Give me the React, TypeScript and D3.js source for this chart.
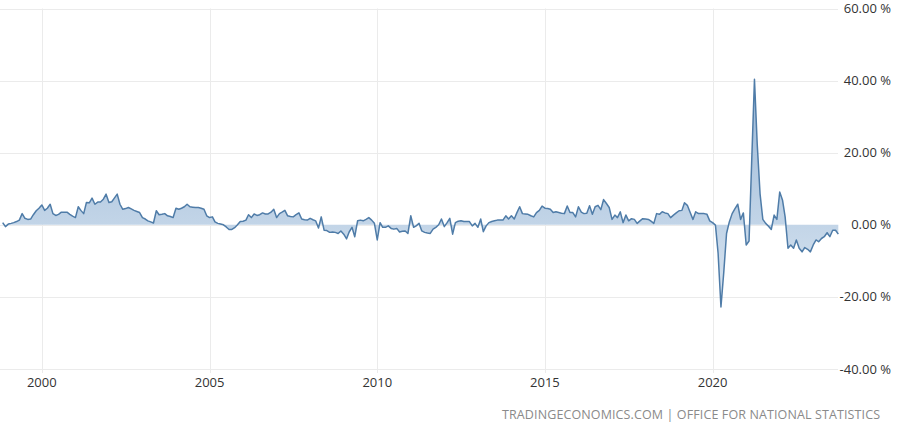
import * as d3 from "d3";
import { useEffect, useRef } from "react";

// monthly readings, first month Nov 1998
const startDate = new Date(1998, 10, 1);
const values: number[] = [
  0.6, -0.5, 0.2, 0.4, 0.6, 0.9, 1.3, 3.1, 1.8, 1.5, 1.6, 2.8, 3.9, 4.6, 5.5, 4.0, 4.6, 5.7, 3.1, 2.6,
  2.9, 3.5, 3.5, 3.5, 2.9, 2.4, 2.0, 5.0, 4.0, 3.1, 6.2, 6.1, 7.4, 5.7, 6.3, 6.3, 7.1, 8.5, 6.2, 6.4,
  7.4, 8.5, 5.7, 4.3, 4.5, 4.8, 4.4, 4.0, 3.7, 3.4, 2.0, 1.6, 1.1, 0.8, 0.5, 3.9, 2.8, 2.9, 3.1, 2.5,
  2.3, 2.0, 4.6, 4.3, 4.6, 5.0, 5.7, 5.0, 4.9, 4.8, 4.8, 4.6, 4.3, 2.5, 2.0, 2.2, 0.8, 0.4, 0.2, 0.0,
  -0.6, -1.3, -1.3, -0.8, 0.0, 0.9, 1.0, 1.3, 2.8, 2.0, 3.0, 2.6, 2.8, 3.3, 3.0, 3.0, 3.5, 4.3, 2.0, 3.1,
  3.5, 4.0, 2.5, 2.3, 2.2, 2.8, 3.3, 1.6, 1.4, 1.3, 1.8, 1.4, 1.1, -0.9, 2.2, -1.5, -1.6, -2.1, -2.0, -2.1,
  -2.4, -1.7, -2.6, -3.9, -2.0, -0.7, -3.3, 1.1, 1.3, 1.1, 1.5, 2.0, 1.3, 0.4, -4.2, 0.6, -0.7, -0.7, -0.3, -1.0,
  -1.2, -1.0, -2.0, -1.8, -1.7, -2.4, 2.5, -0.7, -0.3, 0.4, -1.7, -2.1, -2.3, -2.4, -1.2, -0.7, 0.0, 1.6, -0.5, 0.6,
  1.8, -2.6, 0.6, 1.0, 1.1, 0.9, 0.9, 0.9, -0.3, 0.4, -0.7, 1.6, -1.9, -0.3, 0.6, 0.9, 1.1, 1.3, 1.3, 1.3,
  2.5, 1.6, 2.5, 1.6, 3.3, 5.0, 3.1, 3.0, 2.9, 2.5, 2.2, 3.4, 4.0, 5.2, 4.6, 4.5, 4.3, 3.4, 3.6, 3.4,
  3.2, 3.1, 5.2, 3.4, 3.4, 2.2, 5.0, 3.5, 3.1, 3.2, 5.3, 2.9, 5.0, 5.4, 4.2, 7.0, 5.9, 4.8, 1.5, 2.7,
  2.0, 3.6, 0.6, 2.7, 1.1, 1.7, 1.5, 0.4, 1.1, 1.7, 1.6, 1.5, 1.0, 0.4, 3.1, 2.9, 3.6, 3.3, 3.1, 2.0,
  2.7, 3.3, 3.9, 4.0, 6.1, 5.4, 3.5, 1.5, 3.6, 3.1, 3.1, 3.1, 2.9, 1.1, 0.6, -0.1, -7.9, -22.8, -13.4, -2.4,
  0.8, 3.1, 4.5, 5.7, 1.5, 3.3, -5.6, -4.5, 17.0, 40.4, 22.4, 8.6, 1.5, 0.4, -0.4, -1.3, 2.7, 1.5, 9.1, 6.8,
  2.2, -6.5, -5.6, -6.5, -4.2, -6.5, -7.5, -6.3, -6.8, -7.5, -5.6, -4.2, -4.7, -3.8, -3.3, -2.2, -3.3, -1.5, -1.5, -2.6,
];
const yTicks = [-40, -20, 0, 20, 40, 60];
const xTickYears = [2000, 2005, 2010, 2015, 2020];
const sourceText = "TRADINGECONOMICS.COM | OFFICE FOR NATIONAL STATISTICS";

const width = 900;
const height = 423;

interface Point {
  date: Date;
  value: number;
}

const App: React.FC = () => {
  const ref = useRef<SVGSVGElement | null>(null);

  useEffect(() => {
    const svg = d3.select(ref.current);
    svg.selectAll("*").remove();

    const data: Point[] = values.map((v, i) => ({
      date: d3.timeMonth.offset(startDate, i),
      value: v,
    }));

    const x = d3
      .scaleTime()
      .domain([data[0].date, data[data.length - 1].date])
      .range([2.7, 838.3]);
    const y = d3.scaleLinear().domain([-40, 60]).range([369, 8.5]);

    const font = "'Open Sans', 'DejaVu Sans', sans-serif";

    const defs = svg.append("defs");
    const grad = defs
      .append("linearGradient")
      .attr("id", "fillGrad")
      .attr("gradientUnits", "userSpaceOnUse")
      .attr("x1", 0)
      .attr("x2", 0)
      .attr("y1", y(30))
      .attr("y2", y(-25));
    grad.append("stop").attr("offset", 0).attr("stop-color", "#a4bfdb");
    grad.append("stop").attr("offset", 1).attr("stop-color", "#dce7f2");

    // grid
    svg
      .append("g")
      .selectAll("line")
      .data(yTicks)
      .enter()
      .append("line")
      .attr("x1", 0)
      .attr("x2", 838)
      .attr("y1", (d) => Math.round(y(d)) + 0.5)
      .attr("y2", (d) => Math.round(y(d)) + 0.5)
      .attr("stroke", "#ebebeb")
      .attr("stroke-width", 1);

    svg
      .append("g")
      .selectAll("line")
      .data(xTickYears)
      .enter()
      .append("line")
      .attr("x1", (d) => Math.round(x(new Date(d, 0, 1))) + 0.5)
      .attr("x2", (d) => Math.round(x(new Date(d, 0, 1))) + 0.5)
      .attr("y1", y(60))
      .attr("y2", 373)
      .attr("stroke", "#ebebeb")
      .attr("stroke-width", 1);

    const area = d3
      .area<Point>()
      .x((d) => x(d.date))
      .y0(y(0))
      .y1((d) => y(d.value));
    const line = d3
      .line<Point>()
      .x((d) => x(d.date))
      .y((d) => y(d.value));

    svg.append("path").datum(data).attr("d", area).attr("fill", "url(#fillGrad)");
    svg
      .append("path")
      .datum(data)
      .attr("d", line)
      .attr("fill", "none")
      .attr("stroke", "#4f7ca8")
      .attr("stroke-width", 1.5)
      .attr("stroke-linejoin", "round");

    // y labels
    svg
      .append("g")
      .selectAll("text")
      .data(yTicks)
      .enter()
      .append("text")
      .attr("x", 891)
      .attr("y", (d) => y(d))
      .attr("dy", "0.35em")
      .attr("text-anchor", "end")
      .attr("font-family", font)
      .attr("font-size", 13)
      .attr("fill", "#333")
      .text((d) => `${d.toFixed(2)} %`);

    // x labels
    svg
      .append("g")
      .selectAll("text")
      .data(xTickYears)
      .enter()
      .append("text")
      .attr("x", (d) => x(new Date(d, 0, 1)))
      .attr("y", 387)
      .attr("text-anchor", "middle")
      .attr("font-family", font)
      .attr("font-size", 13)
      .attr("fill", "#333")
      .text((d) => d);

    svg
      .append("text")
      .attr("x", 880)
      .attr("y", 419)
      .attr("text-anchor", "end")
      .attr("font-family", font)
      .attr("font-size", 12.5)
      .attr("fill", "#8a8a8a")
      .attr("textLength", 378)
      .attr("lengthAdjust", "spacing")
      .text(sourceText);
  }, []);

  return (
    <div style={{ position: "absolute", left: 0, top: 0 }}>
      <svg ref={ref} width={width} height={height} style={{ display: "block" }}></svg>
    </div>
  );
};

export default App;
